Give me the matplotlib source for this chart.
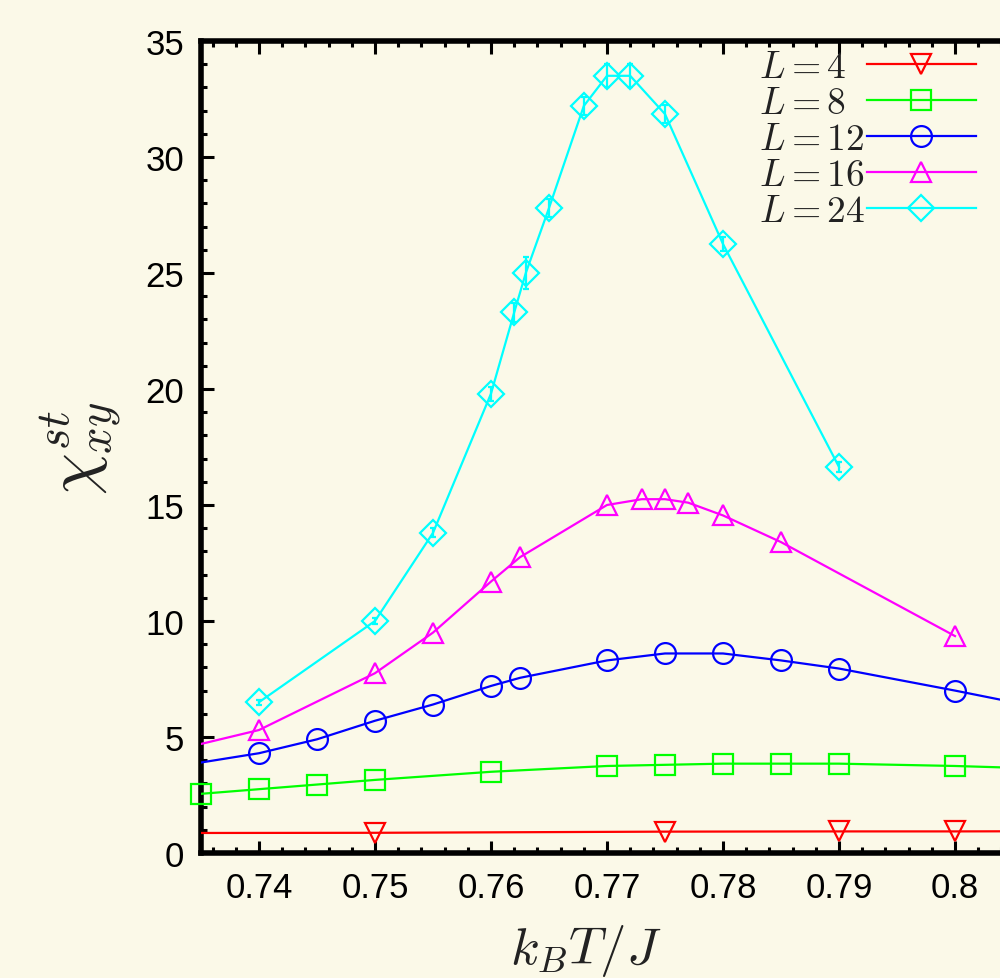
import numpy as np
import matplotlib.pyplot as plt
from matplotlib.lines import Line2D
from matplotlib.ticker import MultipleLocator
from matplotlib.transforms import Affine2D

plt.rcParams['mathtext.fontset'] = 'cm'
plt.rcParams['font.family'] = ['Liberation Sans', 'DejaVu Sans']

# data
t4 = [0.73, 0.75, 0.775, 0.79, 0.80, 0.81]
chi4 = [0.86, 0.87, 0.92, 0.93, 0.93, 0.94]

t8 = [0.735, 0.74, 0.745, 0.75, 0.76, 0.77, 0.775, 0.78, 0.785, 0.79, 0.80, 0.81]
chi8 = [2.55, 2.75, 2.95, 3.15, 3.5, 3.75, 3.8, 3.85, 3.85, 3.85, 3.75, 3.6]

t12 = [0.73, 0.74, 0.745, 0.75, 0.755, 0.76, 0.7625, 0.77, 0.775, 0.78, 0.785, 0.79, 0.80, 0.81]
chi12 = [3.5, 4.3, 4.9, 5.7, 6.4, 7.2, 7.55, 8.3, 8.6, 8.6, 8.3, 7.95, 7.0, 6.0]

t16 = [0.73, 0.74, 0.75, 0.755, 0.76, 0.7625, 0.77, 0.773, 0.775, 0.777, 0.78, 0.785, 0.80]
chi16 = [4.1, 5.3, 7.75, 9.5, 11.7, 12.75, 15.0, 15.25, 15.25, 15.1, 14.55, 13.4, 9.35]

t24 = [0.74, 0.75, 0.755, 0.76, 0.762, 0.763, 0.765, 0.768, 0.77, 0.772, 0.775, 0.78, 0.79]
chi24 = [6.5, 10.0, 13.8, 19.8, 23.3, 25.0, 27.8, 32.2, 33.5, 33.5, 31.85, 26.25, 16.64]
err24 = [0.1, 0.15, 0.2, 0.3, 0.4, 0.7, 0.4, 0.4, 0.5, 0.5, 0.4, 0.3, 0.2]

series = [
    ('$L=4$', t4, chi4, None, '#ff0000', 'v'),
    ('$L=8$', t8, chi8, None, '#00ff00', 's'),
    ('$L=12$', t12, chi12, None, '#0000ff', 'o'),
    ('$L=16$', t16, chi16, None, '#ff00ff', '^'),
    ('$L=24$', t24, chi24, err24, '#00ffff', 'D'),
]
msizes = {'v': 15, 's': 15, 'o': 15, '^': 15, 'D': 13}

bg = '#fbf9e8'
fig = plt.figure(figsize=(10, 9.79), dpi=100, facecolor=bg)
ax = fig.add_axes([0.201, 0.1277, 0.87, 0.8294], facecolor=bg)
xmin, xmax = 0.735, 0.81

handles = []
for label, t, y, err, c, m in series:
    t = np.array(t)
    y = np.array(y)
    ax.plot(t, y, color=c, lw=1.6, zorder=3)
    inside = (t >= xmin - 1e-9) & (t <= xmax)
    ax.plot(t[inside], y[inside], ls='none', marker=m, ms=msizes[m], mfc='none',
            mec=c, mew=1.6, clip_on=False, zorder=4)
    if err is not None:
        ax.errorbar(t, y, yerr=err, fmt='none', ecolor=c, elinewidth=1.6,
                    capsize=2, capthick=1.6, zorder=4)
    handles.append(Line2D([], [], color=c, lw=1.6, marker=m, ms=msizes[m],
                          mfc='none', mec=c, mew=1.6, label=label))

ax.set_xlim(xmin, xmax)
ax.set_ylim(0, 35)
ax.xaxis.set_major_locator(MultipleLocator(0.01))
ax.xaxis.set_minor_locator(MultipleLocator(0.002))
ax.yaxis.set_major_locator(MultipleLocator(5))
ax.yaxis.set_minor_locator(MultipleLocator(1))
ax.set_xticks([0.74, 0.75, 0.76, 0.77, 0.78, 0.79, 0.80])
ax.set_xticklabels(['0.74', '0.75', '0.76', '0.77', '0.78', '0.79', '0.8'])

ax.tick_params(which='both', direction='in', top=True, right=True, width=2.2, labelsize=25)
ax.tick_params(which='major', length=9)
ax.tick_params(which='minor', length=4.5)
ax.tick_params(axis='x', pad=13)
ax.tick_params(axis='y', pad=12)
for s in ax.spines.values():
    s.set_linewidth(4)

ax.set_xlabel('$k_BT/J$', fontsize=38, color='#222222')
ax.xaxis.set_label_coords(0.442, -0.085, transform=ax.transAxes)
ax.set_ylabel('$\\chi^{st}_{xy}$', fontsize=48, color='#222222')
ax.yaxis.set_label_coords(-0.09, 0.5, transform=ax.transAxes)

leg = ax.legend(handles=handles, loc='upper left', bbox_to_anchor=(0.74, 0.968),
                bbox_transform=fig.transFigure, frameon=False, markerfirst=False,
                fontsize=27, handlelength=2.9, handletextpad=0.05, labelspacing=0.0,
                borderpad=0, numpoints=1)
for txt in leg.get_texts():
    txt.set_color('#222222')

# gnuplot key: labels left-aligned, samples lined up on the right
fig.canvas.draw()
rend = fig.canvas.get_renderer()
lefts = [txt.get_window_extent(rend).x0 for txt in leg.get_texts()]
x0 = min(lefts)
for txt, lx in zip(leg.get_texts(), lefts):
    txt.set_transform(txt.get_transform() + Affine2D().translate(x0 - lx, 0))

fig.savefig('out.png', dpi=100, facecolor=bg)
